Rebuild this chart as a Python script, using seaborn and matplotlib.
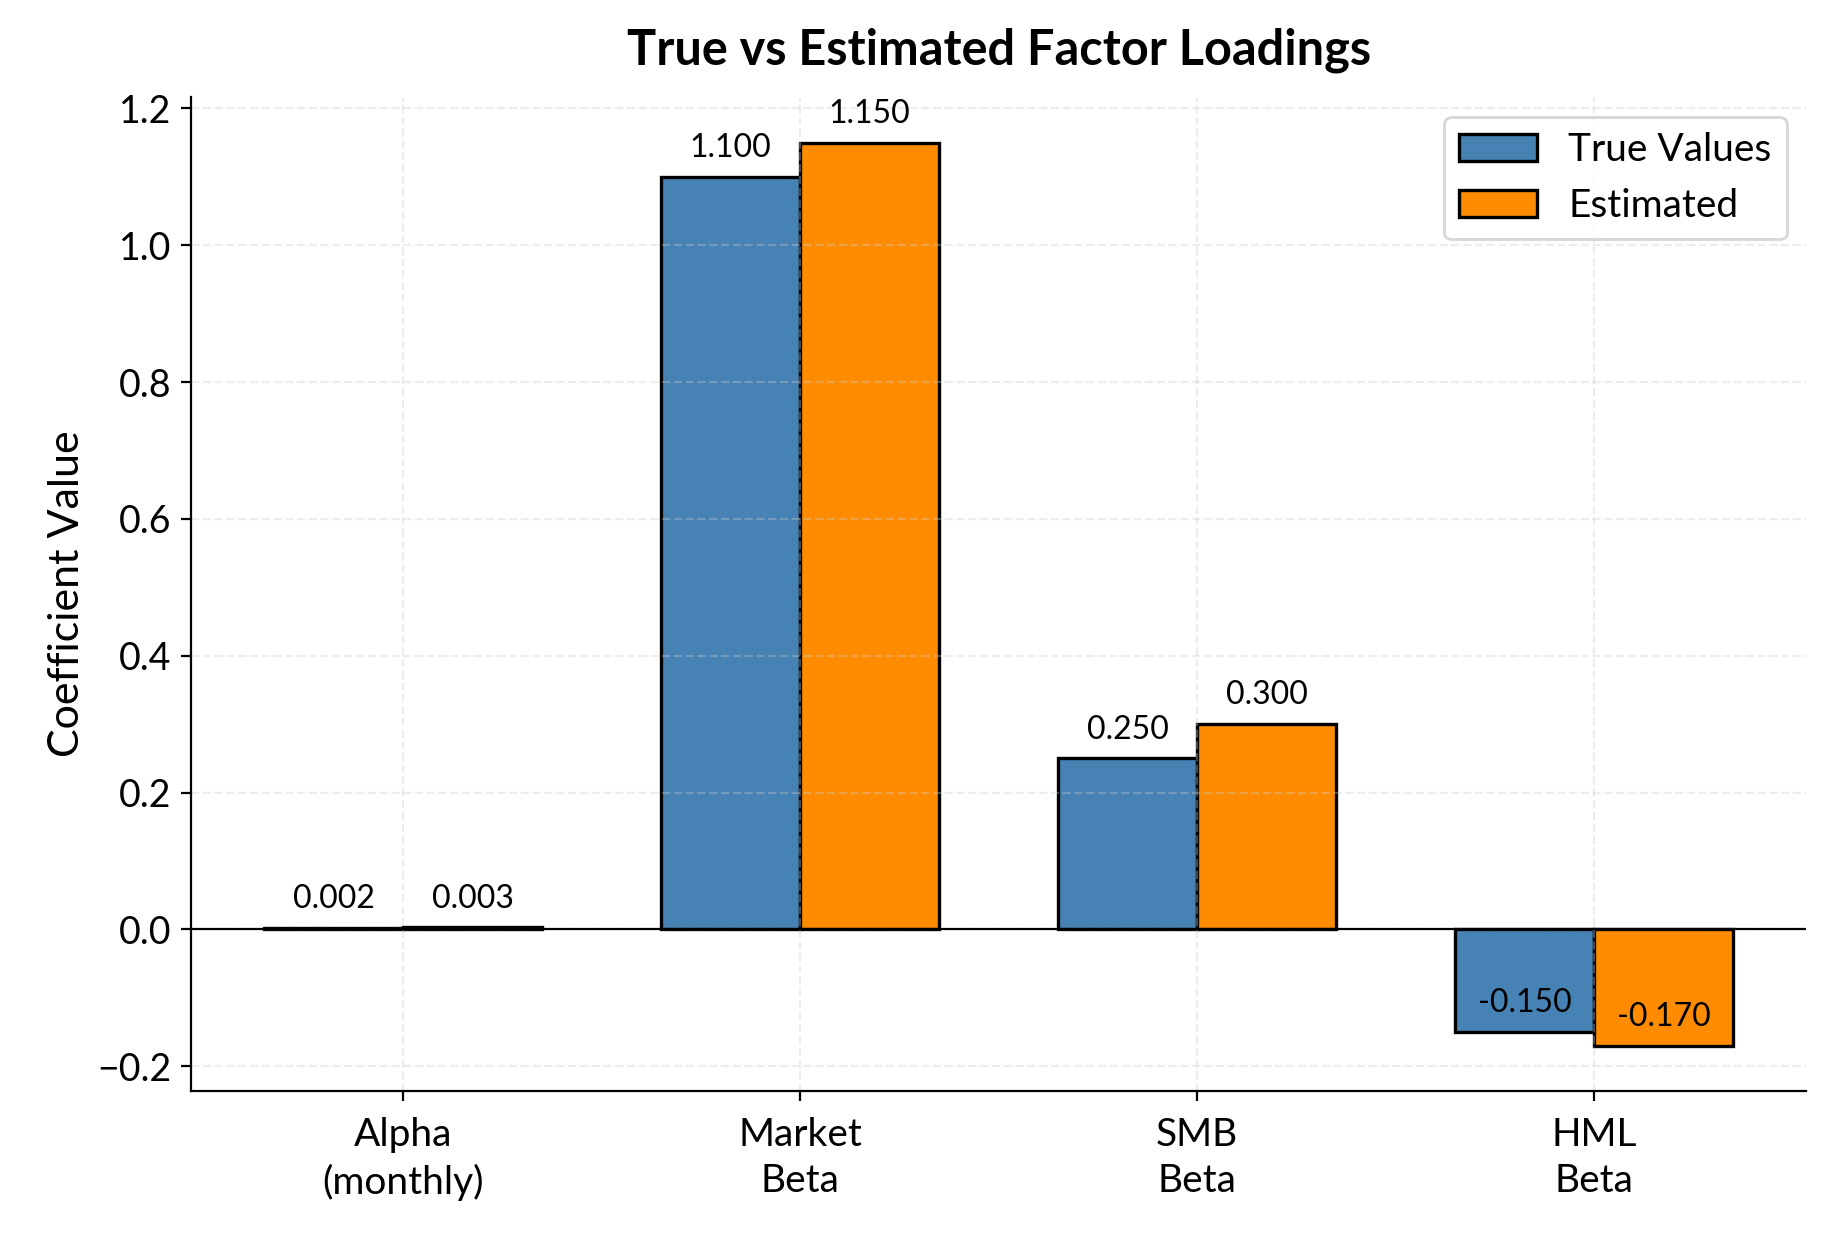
import numpy as np
import pandas as pd
import matplotlib
matplotlib.use('Agg')
import matplotlib.pyplot as plt
import seaborn as sns

factors = ['Alpha\n(monthly)', 'Market\nBeta', 'SMB\nBeta', 'HML\nBeta']
true_values = [0.002, 1.10, 0.25, -0.15]
estimated = [0.003, 1.15, 0.30, -0.17]
series_names = ['True Values', 'Estimated']
colors = ['steelblue', 'darkorange']

df = pd.DataFrame({
    'factor': factors * 2,
    'value': true_values + estimated,
    'type': [series_names[0]] * len(factors) + [series_names[1]] * len(factors),
})

sns.set_style('ticks')
plt.rcParams['font.family'] = ['Lato', 'DejaVu Sans']
plt.rcParams['axes.axisbelow'] = 'line'
for k in ['text.color', 'axes.labelcolor', 'xtick.color', 'ytick.color', 'axes.edgecolor']:
    plt.rcParams[k] = 'black'

fig, ax = plt.subplots(figsize=(9.17, 6.17), dpi=200)
fig.subplots_adjust(left=0.104, right=0.985, top=0.921, bottom=0.116)

sns.barplot(data=df, x='factor', y='value', hue='type', palette=colors,
            saturation=1, edgecolor='black', linewidth=1.2, width=0.7, ax=ax)

# value labels
for cont in ax.containers:
    for bar in cont:
        h = bar.get_height()
        ax.text(bar.get_x() + bar.get_width() / 2, h + 0.02, f'{h:.3f}',
                ha='center', va='bottom', fontsize=11.5)

ax.axhline(0, color='black', linewidth=0.8)
ax.set_xlim(-0.535, len(factors) - 0.465)
ax.margins(y=0.05)
ax.grid(True, linestyle='--', alpha=0.35)
ax.set_xlabel('')
ax.set_ylabel('Coefficient Value', fontsize=15.5)
ax.set_title('True vs Estimated Factor Loadings', fontsize=17.5, fontweight='bold', pad=12)
ax.tick_params(axis='x', labelsize=14, pad=6)
ax.tick_params(axis='y', labelsize=13.5)
for lbl in ax.get_xticklabels():
    lbl.set_linespacing(1.35)
sns.despine(ax=ax)
sns.move_legend(ax, 'upper right', title=None, fontsize=14, frameon=True)

fig.savefig('out.png', dpi=200)
